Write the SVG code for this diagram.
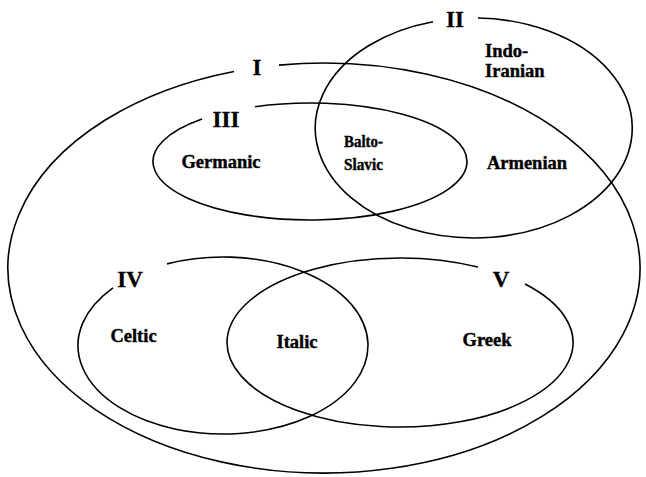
<svg xmlns="http://www.w3.org/2000/svg" width="646" height="477" viewBox="0 0 646 477">
<style>
.set{fill:none;stroke:#000;stroke-width:1.6}
.num{font-family:"Liberation Serif","Times New Roman",serif;font-weight:bold;font-size:23px;fill:#000;stroke:#000;stroke-width:0.3;text-anchor:middle}
.lang{font-family:"Liberation Serif","Times New Roman",serif;font-weight:bold;font-size:18.5px;fill:#000;stroke:#000;stroke-width:0.4}
.small{font-size:17.5px}
</style>
<rect width="646" height="477" fill="#fff"/>
<g id="set-I">
<path class="set" d="M 279 65.1 A 316 205 0 1 1 234 71.5"/>
<text class="num" x="257" y="75">I</text>
</g>
<g id="set-II">
<path class="set" d="M 478 18.04 A 158.5 110 0 1 1 433 21.7"/>
<text class="num" x="455" y="27">II</text>
</g>
<g id="set-III">
<path class="set" d="M 255 106.71 A 157 58.5 0 1 1 202 119.04"/>
<text class="num" x="226" y="127">III</text>
</g>
<g id="set-IV">
<path class="set" d="M 167 263.87 A 145 88.5 0 1 1 113 287.84"/>
<text class="num" x="130" y="287">IV</text>
</g>
<g id="set-V">
<path class="set" d="M 525 284.08 A 173 84.5 0 1 1 478 267.08"/>
<text class="num" x="501" y="287">V</text>
</g>
<g id="languages">
<text class="lang" x="485" y="57">Indo-</text>
<text class="lang" x="485" y="77">Iranian</text>
<text class="lang" x="221" y="168" text-anchor="middle">Germanic</text>
<text class="lang small" x="344" y="147" textLength="39" lengthAdjust="spacingAndGlyphs">Balto-</text>
<text class="lang small" x="344" y="170" textLength="39" lengthAdjust="spacingAndGlyphs">Slavic</text>
<text class="lang" x="527" y="169" text-anchor="middle">Armenian</text>
<text class="lang" x="133.5" y="342" text-anchor="middle">Celtic</text>
<text class="lang" x="297" y="348" text-anchor="middle">Italic</text>
<text class="lang" x="487" y="346" text-anchor="middle">Greek</text>
</g>
<g id="connectors"/>
</svg>
